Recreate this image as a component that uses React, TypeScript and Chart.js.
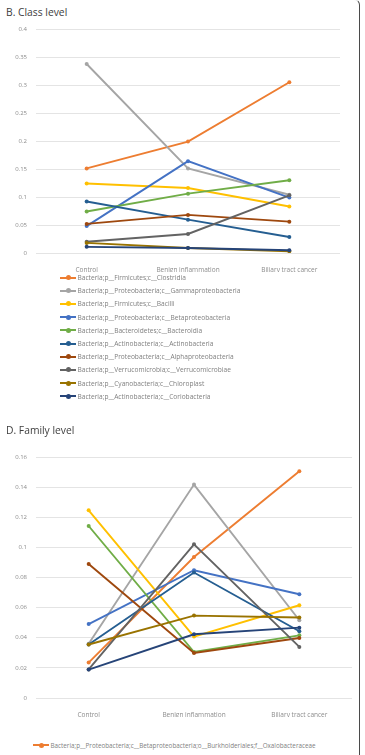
import { useEffect, useRef } from "react";
import { Chart, registerables } from "chart.js";

Chart.register(...registerables);

const FONT = "'Open Sans', 'Liberation Sans', sans-serif";

// x-axis groups shared by both panels
const groups = ["Control", "Benign inflammation", "Biliary tract cancer"];

// Series palette (same order in both panels)
const palette = [
  "#ED7D31", "#A5A5A5", "#FFC000", "#4472C4", "#70AD47",
  "#255E91", "#9E480E", "#636363", "#997300", "#264478",
];

// ---- B. Class level ----
const classLabels = [
  "Bacteria;p__Firmicutes;c__Clostridia",
  "Bacteria;p__Proteobacteria;c__Gammaproteobacteria",
  "Bacteria;p__Firmicutes;c__Bacilli",
  "Bacteria;p__Proteobacteria;c__Betaproteobacteria",
  "Bacteria;p__Bacteroidetes;c__Bacteroidia",
  "Bacteria;p__Actinobacteria;c__Actinobacteria",
  "Bacteria;p__Proteobacteria;c__Alphaproteobacteria",
  "Bacteria;p__Verrucomicrobia;c__Verrucomicrobiae",
  "Bacteria;p__Cyanobacteria;c__Chloroplast",
  "Bacteria;p__Actinobacteria;c__Coriobacteria",
];
const clostridia = [0.151, 0.199, 0.305];
const gammaproteobacteria = [0.3375, 0.151, 0.104];
const bacilli = [0.124, 0.116, 0.083];
const betaproteobacteria = [0.048, 0.164, 0.099];
const bacteroidia = [0.074, 0.106, 0.13];
const actinobacteria = [0.092, 0.0595, 0.0286];
const alphaproteobacteria = [0.052, 0.068, 0.056];
const verrucomicrobiae = [0.02, 0.034, 0.103];
const chloroplast = [0.018, 0.009, 0.003];
const coriobacteria = [0.011, 0.009, 0.005];
const classValues = [
  clostridia, gammaproteobacteria, bacilli, betaproteobacteria, bacteroidia,
  actinobacteria, alphaproteobacteria, verrucomicrobiae, chloroplast, coriobacteria,
];
const classYMax = 0.4;
const classYStep = 0.05;

// ---- D. Family level ----
const familyLabels = [
  "Bacteria;p__Proteobacteria;c__Betaproteobacteria;o__Burkholderiales;f__Oxalobacteraceae",
  "Series 2", "Series 3", "Series 4", "Series 5",
  "Series 6", "Series 7", "Series 8", "Series 9", "Series 10",
];
const oxalobacteraceae = [0.0235, 0.0936, 0.1505];
const family2 = [0.036, 0.1417, 0.0516];
const family3 = [0.1246, 0.0408, 0.0616];
const family4 = [0.0491, 0.0848, 0.0689];
const family5 = [0.1142, 0.0305, 0.0416];
const family6 = [0.0355, 0.0833, 0.0443];
const family7 = [0.089, 0.0299, 0.0398];
const family8 = [0.019, 0.102, 0.0339];
const family9 = [0.0355, 0.0547, 0.0534];
const family10 = [0.0189, 0.0423, 0.0467];
const familyValues = [
  oxalobacteraceae, family2, family3, family4, family5,
  family6, family7, family8, family9, family10,
];
const familyYMax = 0.16;
const familyYStep = 0.02;
// only the first legend row of the family panel fits on the page
const familyLegendRows = 1;

const fmt = (v: number | string) => String(+Number(v).toFixed(2));

type Props = {
  labels: string[];
  values: number[][];
  yMax: number;
  yStep: number;
  width: number;
  height: number;
  top: number;
  padTop: number;
  padRight: number;
};

function LineChart({ labels, values, yMax, yStep, width, height, top, padTop, padRight }: Props) {
  const ref = useRef<HTMLCanvasElement>(null);
  useEffect(() => {
    const n = values.length;
    const chart = new Chart(ref.current!, {
      type: "line",
      data: {
        labels: groups,
        datasets: values.map((vals, i) => ({
          label: labels[i],
          data: vals,
          borderColor: palette[i],
          backgroundColor: palette[i],
          pointBackgroundColor: palette[i],
          pointBorderColor: palette[i],
          borderWidth: 1.9,
          pointRadius: 2,
          pointBorderWidth: 0,
          tension: 0,
          order: n - i,
        })),
      },
      options: {
        animation: false,
        responsive: false,
        devicePixelRatio: 1,
        layout: { padding: { top: padTop, right: padRight, left: 0, bottom: 0 } },
        plugins: { legend: { display: false }, tooltip: { enabled: false } },
        scales: {
          x: {
            offset: true,
            grid: { display: false },
            border: { display: false },
            ticks: {
              color: "#8c8c8c",
              font: { family: FONT, size: 6.5 },
              padding: 5,
              maxRotation: 0,
              autoSkip: false,
            },
            afterFit: (s: any) => {
              s.height = 19;
            },
          },
          y: {
            min: 0,
            max: yMax,
            ticks: {
              stepSize: yStep,
              callback: (v: any) => fmt(v),
              padding: 9,
              color: "#8c8c8c",
              font: { family: FONT, size: 6 },
            },
            grid: { color: "#e4e4e4", drawTicks: false, lineWidth: 1 },
            border: { display: false },
            afterFit: (s: any) => {
              s.width = 36;
            },
          },
        },
      },
    });
    return () => chart.destroy();
  }, []);
  return (
    <canvas
      ref={ref}
      width={width}
      height={height}
      style={{ position: "absolute", left: 0, top, width, height }}
    />
  );
}

type LegendProps = { labels: string[]; left: number; top: number; rows: number; size: number };

function Legend({ labels, left, top, rows, size }: LegendProps) {
  return (
    <div style={{ position: "absolute", left, top }}>
      {labels.slice(0, rows).map((l, i) => (
        <div
          key={l}
          style={{
            height: 13.2,
            display: "flex",
            alignItems: "center",
            whiteSpace: "nowrap",
            font: `${size}px ${FONT}`,
            color: "#7f7f7f",
          }}
        >
          <span
            style={{
              position: "relative",
              display: "inline-block",
              width: 16,
              height: 2,
              background: palette[i],
              marginRight: 1.5,
            }}
          >
            <span
              style={{
                position: "absolute",
                left: 5.5,
                top: -1.5,
                width: 5,
                height: 5,
                borderRadius: "50%",
                background: palette[i],
              }}
            />
          </span>
          {l}
        </div>
      ))}
    </div>
  );
}

const titleStyle = (top: number) => ({
  position: "absolute" as const,
  left: 6,
  top,
  font: `10.3px ${FONT}`,
  color: "#404040",
  whiteSpace: "nowrap" as const,
});

export default function App() {
  useEffect(() => {
    document.body.style.margin = "0";
  }, []);
  return (
    <div
      style={{
        position: "fixed",
        left: 0,
        top: 0,
        width: 365,
        height: 755,
        overflow: "hidden",
        background: "#fff",
      }}
    >
      <div
        style={{
          position: "absolute",
          left: -4,
          top: -1,
          width: 364,
          height: 800,
          borderRight: "1.6px solid #4a4a4a",
          borderTop: "1px solid #e0e0e0",
          borderTopRightRadius: 6,
          boxSizing: "border-box",
        }}
      />
      <div style={titleStyle(5)}>B. Class level</div>
      <LineChart
        labels={classLabels}
        values={classValues}
        yMax={classYMax}
        yStep={classYStep}
        width={345}
        height={272}
        top={0}
        padTop={29}
        padRight={5}
      />
      <Legend labels={classLabels} left={60} top={271} rows={classLabels.length} size={6.6} />

      <div style={titleStyle(423)}>D. Family level</div>
      <LineChart
        labels={familyLabels}
        values={familyValues}
        yMax={familyYMax}
        yStep={familyYStep}
        width={357}
        height={277}
        top={440}
        padTop={17}
        padRight={5}
      />
      <Legend labels={familyLabels} left={33} top={738.7} rows={familyLegendRows} size={6.3} />
    </div>
  );
}
